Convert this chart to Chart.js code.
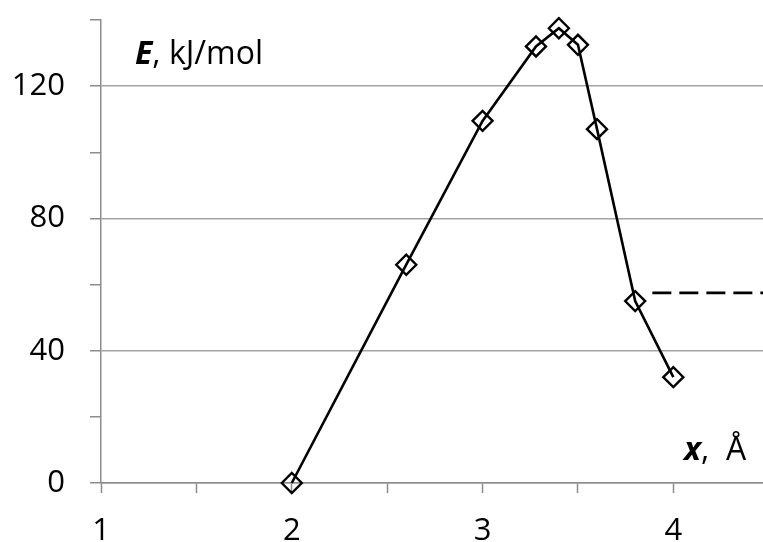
<!DOCTYPE html>
<html>
<head>
<meta charset="utf-8">
<script src="https://cdn.jsdelivr.net/npm/chart.js@4/dist/chart.umd.min.js"></script>
<style>
  html, body { margin: 0; padding: 0; background: #fff; overflow: hidden; width: 763px; height: 542px; }
  #wrap { width: 763px; height: 542px; position: relative; overflow: hidden; }
  #c { display: block; }
</style>
</head>
<body>
<div id="wrap"><canvas id="c"></canvas></div>
<script>
// Energy profile along the reaction coordinate
const distance = [2.0, 2.6, 3.0, 3.28, 3.4, 3.5, 3.6, 3.8, 4.0];   // x, Å
const energy   = [0, 66, 109.5, 132, 137.5, 132.5, 107, 55, 32];   // E, kJ/mol

// Horizontal reference level (dashed)
const levelX = [3.89, 4.47];
const levelE = [57.5, 57.5];

// Axis ticks
const xTickValues = [1, 1.5, 2, 2.5, 3, 3.5, 4];
const xTickLabels = ['1', '', '2', '', '3', '', '4'];
const yTickValues = [0, 20, 40, 60, 80, 100, 120, 140];
const yTickLabels = ['0', '', '40', '', '80', '', '120', ''];
const yGridValues = [0, 40, 80, 120];

const FONT = '"Open Sans", "DejaVu Sans", sans-serif';
const GRID = '#a3a3a3';
const AXIS = '#8c8c8c';

const axisTitles = {
  id: 'axisTitles',
  afterDraw(chart) {
    const ctx = chart.ctx;
    ctx.save();
    ctx.fillStyle = '#000';
    ctx.textBaseline = 'alphabetic';
    ctx.textAlign = 'left';

    // E, kJ/mol
    let x = 135, y = 64;
    ctx.font = 'italic bold 32px ' + FONT;
    ctx.fillText('E', x, y);
    x += ctx.measureText('E').width;
    ctx.font = '32px ' + FONT;
    ctx.fillText(', kJ/mol', x, y);

    // x, Å
    x = 684; y = 460;
    ctx.font = 'italic bold 32px ' + FONT;
    ctx.fillText('x', x, y);
    x += ctx.measureText('x').width;
    ctx.font = '32px ' + FONT;
    ctx.fillText(',  Å', x, y);
    ctx.restore();
  }
};

const noPadding = () => ({ left: 0, top: 0, right: 0, bottom: 0 });

new Chart(document.getElementById('c'), {
  type: 'scatter',
  data: {
    datasets: [
      {
        data: distance.map((d, i) => ({ x: d, y: energy[i] })),
        showLine: true,
        borderColor: '#000',
        borderWidth: 2.6,
        pointStyle: 'rectRot',
        pointRadius: 10,
        pointHoverRadius: 10,
        pointBorderWidth: 2.4,
        pointBorderColor: '#000',
        pointBackgroundColor: 'rgba(0,0,0,0)',
        tension: 0,
        clip: false
      },
      {
        data: levelX.map((d, i) => ({ x: d, y: levelE[i] })),
        showLine: true,
        borderColor: '#000',
        borderWidth: 2.6,
        borderDash: [19, 8],
        pointRadius: 0,
        pointHoverRadius: 0
      }
    ]
  },
  options: {
    responsive: true,
    maintainAspectRatio: false,
    animation: false,
    events: [],
    layout: { autoPadding: false, padding: { top: 20, right: 0, left: 0, bottom: 0 } },
    plugins: {
      legend: { display: false },
      tooltip: { enabled: false }
    },
    scales: {
      x: {
        type: 'linear',
        min: 1,
        max: 4.47,
        afterBuildTicks: (axis) => { axis.ticks = xTickValues.map(v => ({ value: v })); },
        afterFit: (axis) => {
          axis.height = 59;
          axis.paddingLeft = 0; axis.paddingRight = 0;
          axis.getPadding = noPadding;
        },
        border: { display: true, color: AXIS, width: 1.5 },
        grid: {
          drawOnChartArea: false,
          drawTicks: true,
          tickLength: 10,
          tickColor: AXIS,
          tickWidth: 1.5
        },
        ticks: {
          autoSkip: false,
          maxRotation: 0,
          padding: 20,
          color: '#000',
          font: { family: FONT, size: 31 },
          callback: (v) => {
            const i = xTickValues.indexOf(v);
            return i >= 0 ? xTickLabels[i] : '';
          }
        }
      },
      y: {
        type: 'linear',
        min: 0,
        max: 140,
        afterBuildTicks: (axis) => { axis.ticks = yTickValues.map(v => ({ value: v })); },
        afterFit: (axis) => {
          axis.width = 101;
          axis.paddingTop = 0; axis.paddingBottom = 0;
          axis.getPadding = noPadding;
        },
        border: { display: true, color: AXIS, width: 1.5 },
        grid: {
          drawOnChartArea: true,
          drawTicks: true,
          tickLength: 11,
          tickColor: AXIS,
          tickWidth: 1.5,
          lineWidth: 1.5,
          color: (c) => (c.tick && yGridValues.includes(c.tick.value)) ? GRID : 'rgba(0,0,0,0)'
        },
        ticks: {
          autoSkip: false,
          padding: 25,
          color: '#000',
          font: { family: FONT, size: 31 },
          callback: (v) => {
            const i = yTickValues.indexOf(v);
            return i >= 0 ? yTickLabels[i] : '';
          }
        }
      }
    }
  },
  plugins: [axisTitles]
});
</script>
</body>
</html>
